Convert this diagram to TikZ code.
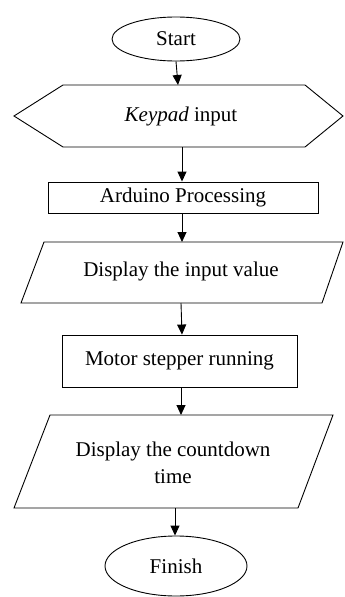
\documentclass[tikz,border=0pt]{standalone}
\usepackage{fontspec}
\setmainfont{Liberation Serif}
\usetikzlibrary{shapes.geometric,arrows.meta}
\tikzset{
  shape line/.style={draw=black, line width=0.9pt},
  flowtext/.style={font=\fontsize{21}{27}\selectfont, align=center, inner sep=0pt},
  flowarrow/.style={draw=black, line width=0.9pt, -{Triangle[length=10pt,width=9pt]}},
}
\begin{document}
\begin{tikzpicture}[x=1pt,y=-1pt]
\useasboundingbox (0,0) rectangle (345,597);
% Start
\node[shape line, ellipse, minimum width=128pt, minimum height=44pt, flowtext] (start) at (176,39) {Start};
% Keypad input hexagon
\draw[shape line] (14,116) -- (63,85) -- (305,85) -- (343,116) -- (305,147) -- (63,147) -- cycle;
\node[flowtext] (keypad) at (181,116) {\textit{Keypad} input};
\coordinate (kpT) at (178,85);
\coordinate (kpB) at (182,147);
% Arduino processing
\node[shape line, rectangle, minimum width=270pt, minimum height=31pt, flowtext] (ard) at (183,197.5) {Arduino Processing};
% Display input value parallelogram
\draw[shape line] (44,242) -- (343,242) -- (322,303) -- (21,303) -- cycle;
\node[flowtext] (disp1) at (181,271) {Display the input value};
\coordinate (d1T) at (182,242);
\coordinate (d1B) at (181,303);
% Motor stepper running
\node[shape line, rectangle, minimum width=235pt, minimum height=52pt, flowtext] (motor) at (179.5,361) {Motor stepper running};
% Display countdown parallelogram
\draw[shape line] (50,415) -- (333,415) -- (298,508) -- (14,508) -- cycle;
\node[flowtext] (disp2) at (173,463) {Display the countdown\\time};
\coordinate (d2T) at (181,415);
\coordinate (d2B) at (175,508);
% Finish
\node[shape line, ellipse, minimum width=142pt, minimum height=60pt, flowtext] (finish) at (176,566) {Finish};
% connectors
\draw[flowarrow] (start.south) -- (kpT);
\draw[flowarrow] (kpB) -- (ard.north -| kpB);
\draw[flowarrow] (ard.south -| d1T) -- (d1T);
\draw[flowarrow] (d1B) -- (motor.north -| d1T);
\draw[flowarrow] (motor.south -| d2T) -- (d2T);
\draw[flowarrow] (d2B) -- (finish.north -| d2B);
\end{tikzpicture}
\end{document}
